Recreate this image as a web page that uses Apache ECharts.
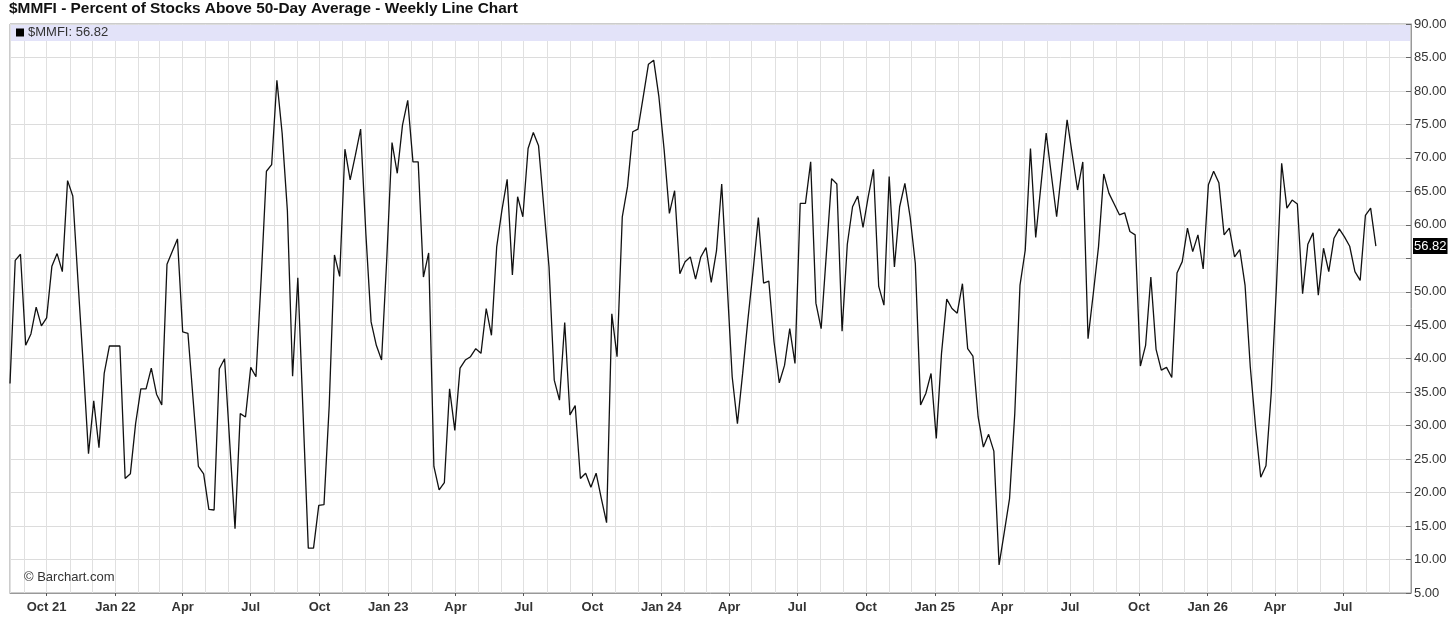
<!DOCTYPE html>
<html>
<head>
<meta charset="utf-8">
<title>$MMFI Weekly Line Chart</title>
<script src="https://cdn.jsdelivr.net/npm/echarts@6/dist/echarts.min.js"></script>
<style>
    html, body { margin: 0; padding: 0; background: #fff; }
    #weeklyLineChart { width: 1456px; height: 620px; }
</style>
</head>
<body>
<div id="weeklyLineChart"></div>
<script>
const symbolName = '$MMFI';
const chartTitle = '$MMFI - Percent of Stocks Above 50-Day Average - Weekly Line Chart';

// first weekly bar (Fri 13 Aug 2021) and the right end of the time axis
const firstWeek = [2021, 7, 13];
const axisEnd = [2026, 8, 30];

const monthNames = ['Jan', 'Feb', 'Mar', 'Apr', 'May', 'Jun', 'Jul', 'Aug', 'Sep', 'Oct', 'Nov', 'Dec'];

// y axis: min, max, step
const yMin = 5;
const yMax = 90;
const yStep = 5;

// weekly closes
const percentAbove = [
    36.3, 54.7, 55.6, 42.0, 43.7, 47.7, 44.9, 46.1, 53.8, 55.7, 53.0, 66.6, 64.3, 51.5, 39.0, 25.8,
    33.7, 26.7, 37.8, 41.9, 41.9, 41.9, 22.1, 22.8, 30.3, 35.5, 35.5, 38.6, 34.7, 33.1, 54.1, 56.0,
    57.9, 44.0, 43.8, 33.8, 23.9, 22.8, 17.5, 17.4, 38.5, 40.0, 27.3, 14.6,
    31.8, 31.3, 38.7, 37.3, 52.0, 68.0, 69.0, 81.6, 73.7, 62.2, 37.4, 52.1, 31.9, 11.7, 11.7, 18.1,
    18.2, 33.0, 55.5, 52.3, 71.3, 66.7, 70.4, 74.3, 58.7, 45.5, 42.0, 39.8, 55.0, 72.3, 67.7, 74.9,
    78.6, 69.4, 69.4, 52.2, 55.8, 23.9, 20.4, 21.5, 35.5, 29.3, 38.6, 39.8,
    40.3, 41.5, 40.8, 47.5, 43.5, 56.7, 62.2, 66.8, 52.5, 64.2, 61.2, 71.4, 73.8, 71.8, 62.7, 53.7,
    36.8, 33.8, 45.4, 31.6, 33.0, 22.1, 22.9, 20.8, 22.9, 19.1, 15.5, 46.7, 40.3, 61.2, 65.7, 73.9,
    74.3, 79.1, 84.0, 84.6, 79.1, 71.2, 61.7, 65.1, 52.7, 54.5, 55.2, 51.9, 55.2,
    56.6, 51.4, 56.1, 66.1, 51.7, 37.3, 30.3, 37.8, 45.8, 53.2, 61.1, 51.3, 51.6, 42.5, 36.4, 39.0,
    44.5, 39.3, 63.2, 63.2, 69.4, 48.3, 44.5, 55.7, 66.9, 66.1, 44.1, 57.1, 62.7, 64.3, 59.6, 64.2,
    68.3, 50.8, 48.0, 67.2, 53.7, 62.7, 66.2, 61.2, 54.2, 33.1, 34.8, 37.8,
    28.1, 40.8, 48.9, 47.5, 46.8, 51.2, 41.5, 40.4, 31.3, 26.8, 28.7, 26.2, 9.2, 14.1, 19.1, 31.8,
    51.0, 56.2, 71.4, 58.1, 65.9, 73.7, 67.4, 61.2, 68.4, 75.7, 70.4, 65.2, 69.4, 43.0, 49.7, 56.7,
    67.6, 64.7, 63.1, 61.5, 61.8, 59.0, 58.5, 38.9, 42.0, 52.2, 41.4, 38.3,
    38.7, 37.2, 52.8, 54.5, 59.5, 56.0, 58.5, 53.4, 66.0, 68.0, 66.3, 58.5, 59.5, 55.2, 56.3, 51.0,
    38.8, 29.9, 22.3, 24.0, 34.8, 50.8, 69.2, 62.5, 63.7, 63.1, 49.7, 57.1, 58.8, 49.5, 56.5, 53.0,
    58.0, 59.4, 58.2, 56.8, 53.0, 51.7, 61.4, 62.5, 56.82
];

const fontName = '"Liberation Sans", Arial, sans-serif';
const DAY = 24 * 3600 * 1000;

const weekDates = percentAbove.map(function (v, i) {
    return new Date(firstWeek[0], firstWeek[1], firstWeek[2] + 7 * i).getTime();
});
const points = percentAbove.map(function (v, i) {
    return [weekDates[i], v];
});
const lastValue = percentAbove[percentAbove.length - 1];
const axisStart = weekDates[0];
const axisStop = new Date(axisEnd[0], axisEnd[1], axisEnd[2]).getTime();

// first day of every quarter inside the axis range (tick marks)
const quarterStarts = [];
for (let y = firstWeek[0]; y <= axisEnd[0]; y++) {
    [0, 3, 6, 9].forEach(function (m) {
        const t = new Date(y, m, 1).getTime();
        if (t > axisStart && t < axisStop) quarterStarts.push(t);
    });
}

function monthLabel(value) {
    const d = new Date(value);
    if (d.getDate() !== 1) return '';
    const m = d.getMonth();
    if (m % 3 !== 0) return '';
    const yy = String(d.getFullYear()).slice(2);
    // year shown on January and on the very first quarter label
    if (m === 0 || (d.getFullYear() === firstWeek[0] && m === 9)) {
        return monthNames[m] + ' ' + yy;
    }
    return monthNames[m];
}

echarts.init(document.querySelector('#weeklyLineChart')).setOption({
    animation: false,
    backgroundColor: '#fff',
    title: {
        text: chartTitle,
        left: 9,
        top: 1,
        padding: 0,
        textStyle: {
            fontFamily: fontName,
            fontSize: 15.4,
            fontWeight: 'bold',
            color: '#111'
        }
    },
    legend: {
        left: 16,
        top: 26,
        padding: 0,
        icon: 'rect',
        itemWidth: 8,
        itemHeight: 8,
        itemGap: 4,
        selectedMode: false,
        formatter: function (name) {
            return name + ': ' + lastValue.toFixed(2);
        },
        textStyle: { fontFamily: fontName, fontSize: 13, color: '#333', padding: [0, 0, 0, -1] }
    },
    graphic: [
        {
            type: 'rect',
            left: 11,
            top: 25,
            z: 1,
            shape: { width: 1399, height: 16 },
            style: { fill: '#e3e3f9' }
        },
        {
            type: 'text',
            left: 24,
            top: 571,
            z: 3,
            style: { text: '\u00a9 Barchart.com', font: '13px ' + fontName, fill: '#333' }
        }
    ],
    grid: {
        left: 10,
        right: 45,
        top: 24,
        bottom: 27,
        show: true,
        borderColor: '#999',
        borderWidth: 1
    },
    xAxis: [{
        // monthly grid + quarter labels
        type: 'time',
        min: axisStart,
        max: axisStop,
        splitNumber: 62,
        maxInterval: 31 * DAY,
        axisLine: { show: true, lineStyle: { color: '#999' } },
        axisTick: { show: false },
        axisLabel: {
            margin: 8,
            fontFamily: fontName,
            fontSize: 13,
            fontWeight: 'bold',
            color: '#333',
            hideOverlap: false,
            formatter: monthLabel
        },
        splitLine: { show: true, lineStyle: { color: '#e0e0e0', width: 1 } }
    }, {
        // short marks under the axis at each quarter
        type: 'time',
        min: axisStart,
        max: axisStop,
        position: 'bottom',
        axisLine: { show: false },
        axisTick: { show: true, length: 3, customValues: quarterStarts, lineStyle: { color: '#555' } },
        axisLabel: { show: false },
        splitLine: { show: false }
    }],
    yAxis: {
        type: 'value',
        position: 'right',
        min: yMin,
        max: yMax,
        interval: yStep,
        axisLine: { show: true, lineStyle: { color: '#999' } },
        axisTick: { show: true, inside: true, length: 5, lineStyle: { color: '#666' } },
        axisLabel: {
            margin: 3,
            fontFamily: fontName,
            fontSize: 13,
            color: '#333',
            formatter: function (v) {
                if (Math.abs(v - lastValue) < 2.5) return '';
                return v.toFixed(2);
            }
        },
        splitLine: { show: true, lineStyle: { color: '#dcdcdc', width: 1 } }
    },
    series: [{
        name: symbolName,
        type: 'line',
        xAxisIndex: 0,
        data: points,
        symbol: 'none',
        showSymbol: false,
        clip: false,
        z: 5,
        itemStyle: { color: '#000' },
        lineStyle: { color: '#111', width: 1.3 },
        markLine: {
            silent: true,
            symbol: ['none', 'none'],
            lineStyle: { color: 'rgba(0,0,0,0)', width: 1, type: 'solid' },
            label: {
                show: true,
                position: 'end',
                distance: 2,
                formatter: lastValue.toFixed(2),
                fontFamily: fontName,
                fontSize: 13,
                color: '#fff',
                backgroundColor: '#000',
                padding: [2, 1, 1, 1]
            },
            emphasis: { disabled: true },
            data: [{ yAxis: lastValue }]
        }
    }]
});
</script>
</body>
</html>
